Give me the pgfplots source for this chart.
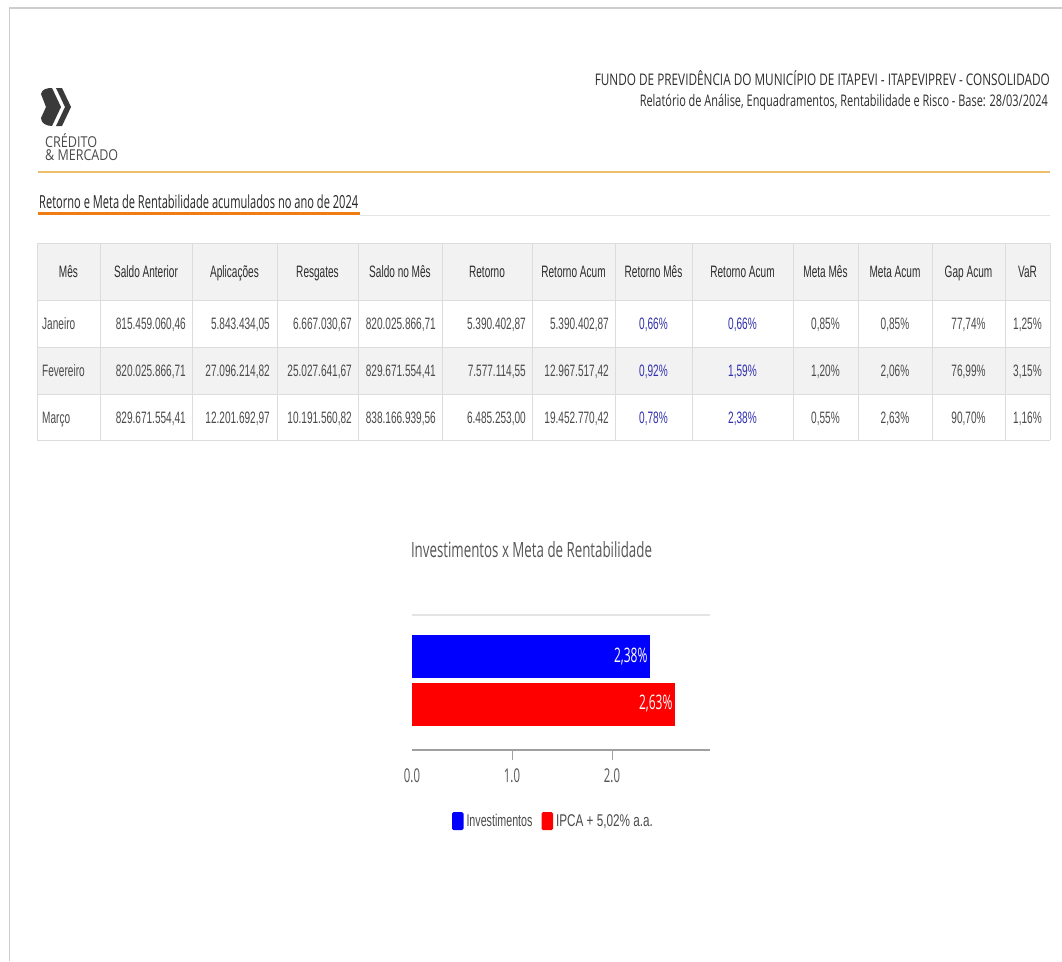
\documentclass[border=0pt]{standalone}
\usepackage{pgfplots}
\pgfplotsset{compat=1.18}
\usepackage{fontspec}
\usepackage{graphicx}
\setmainfont{Liberation Sans}[FakeStretch=0.61]
\newfontfamily\os{Open Sans}[FakeStretch=0.6]
\definecolor{frame}{RGB}{205,205,205}
\definecolor{gold}{RGB}{236,190,110}
\definecolor{orng}{RGB}{240,125,20}
\definecolor{hdr}{RGB}{45,45,45}
\definecolor{txt}{RGB}{75,75,75}
\definecolor{pblue}{RGB}{48,48,176}
\definecolor{cellbg}{RGB}{242,242,242}
\definecolor{cellln}{RGB}{220,220,220}
\definecolor{logo}{RGB}{58,58,58}
\definecolor{gridc}{RGB}{228,228,228}
\definecolor{axc}{RGB}{160,160,160}
\definecolor{lbl}{RGB}{85,85,85}
\definecolor{bblue}{RGB}{0,0,255}
\definecolor{bred}{RGB}{255,0,0}
\newcommand\fs[1]{\fontsize{#1}{#1}\selectfont}
\newcommand\fitw[2]{\resizebox{#1}{\height}{#2}}
\newcommand\cL[3]{\node[anchor=base west,inner sep=0,text=txt] at (#1,#2) {\fs{16.5}#3};}
\newcommand\cR[3]{\node[anchor=base east,inner sep=0,text=txt] at (#1,#2) {\fs{16.5}#3};}
\newcommand\cC[3]{\node[anchor=base,inner sep=0,text=txt] at (#1,#2) {\fs{16.5}#3};}
\newcommand\cB[3]{\node[anchor=base,inner sep=0,text=pblue] at (#1,#2) {\fs{16.5}#3};}
\newcommand\cH[2]{\node[anchor=base,inner sep=0,text=hdr] at (#1,277.5) {\fs{16.5}#2};}
\begin{document}
\begin{tikzpicture}[x=1pt,y=-1pt]
\useasboundingbox (0,0) rectangle (1062,961);
\fill[white] (0,0) rectangle (1062,961);
% page frame
\draw[frame,line width=2pt] (9,8) -- (1062,8);
\draw[frame,line width=1.5pt] (9.5,8) -- (9.5,961);
% logo
\fill[logo] (41,94) .. controls (42,89) and (47,88) .. (52,88) -- (61,107) -- (52,126) .. controls (46,126) and (41,123) .. (41,118) -- (46,107) -- cycle;
\fill[logo] (56,88) -- (62,88) -- (71,107) -- (62,126) -- (56,126) -- (65,107) -- cycle;
\node[anchor=base west,inner sep=0,text=txt] at (45,147) {\os\fs{15}\fitw{52pt}{CRÉDITO}};
\node[anchor=base west,inner sep=0,text=txt] at (45,160.5) {\os\fs{15}\fitw{73pt}{\& MERCADO}};
% header texts
\node[anchor=base east,inner sep=0,text=hdr] at (1050,85) {\os\fs{16}\fitw{455pt}{FUNDO DE PREVIDÊNCIA DO MUNICÍPIO DE ITAPEVI - ITAPEVIPREV - CONSOLIDADO}};
\node[anchor=base east,inner sep=0,text=hdr] at (1048,106) {\os\fs{16}\fitw{408pt}{Relatório de Análise, Enquadramentos, Rentabilidade e Risco - Base: 28/03/2024}};
\draw[gold,line width=1.2pt] (38,172) -- (1050,172);
% section title
\node[anchor=base west,inner sep=0,text=black!85] at (39,208.5) {\os\fs{18}\fitw{319pt}{Retorno e Meta de Rentabilidade acumulados no ano de 2024}};
\draw[black!10,line width=1pt] (360,215) -- (1050,215);
\draw[orng,line width=3pt] (38,213.5) -- (360,213.5);
% table
\fill[cellbg] (37,243) rectangle (1050,300);
\fill[cellbg] (37,347) rectangle (1050,394);
\foreach \yy in {243,300,347,394,440} \draw[cellln,line width=0.8pt] (37,\yy) -- (1050,\yy);
\foreach \xx in {37,100,192,277,358,442,532,615,692,793,858,932,1005,1050} \draw[cellln,line width=0.8pt] (\xx,243) -- (\xx,440);
\cH{68.5}{Mês}\cH{146}{Saldo Anterior}\cH{234.5}{Aplicações}\cH{317.5}{Resgates}\cH{400}{Saldo no Mês}\cH{487}{Retorno}\cH{573.5}{Retorno Acum}\cH{653.5}{Retorno Mês}\cH{742.5}{Retorno Acum}\cH{825.5}{Meta Mês}\cH{895}{Meta Acum}\cH{968.5}{Gap Acum}\cH{1027.5}{VaR}
% Janeiro
\cL{42}{329.5}{Janeiro}\cR{186}{329.5}{815.459.060,46}\cR{270}{329.5}{5.843.434,05}\cR{352}{329.5}{6.667.030,67}\cR{436}{329.5}{820.025.866,71}\cR{526}{329.5}{5.390.402,87}\cR{609}{329.5}{5.390.402,87}
\cB{653.5}{329.5}{0,66\%}\cB{742.5}{329.5}{0,66\%}\cC{825.5}{329.5}{0,85\%}\cC{895}{329.5}{0,85\%}\cC{968.5}{329.5}{77,74\%}\cC{1027.5}{329.5}{1,25\%}
% Fevereiro
\cL{42}{376.5}{Fevereiro}\cR{186}{376.5}{820.025.866,71}\cR{270}{376.5}{27.096.214,82}\cR{352}{376.5}{25.027.641,67}\cR{436}{376.5}{829.671.554,41}\cR{526}{376.5}{7.577.114,55}\cR{609}{376.5}{12.967.517,42}
\cB{653.5}{376.5}{0,92\%}\cB{742.5}{376.5}{1,59\%}\cC{825.5}{376.5}{1,20\%}\cC{895}{376.5}{2,06\%}\cC{968.5}{376.5}{76,99\%}\cC{1027.5}{376.5}{3,15\%}
% Marco
\cL{42}{423}{Março}\cR{186}{423}{829.671.554,41}\cR{270}{423}{12.201.692,97}\cR{352}{423}{10.191.560,82}\cR{436}{423}{838.166.939,56}\cR{526}{423}{6.485.253,00}\cR{609}{423}{19.452.770,42}
\cB{653.5}{423}{0,78\%}\cB{742.5}{423}{2,38\%}\cC{825.5}{423}{0,55\%}\cC{895}{423}{2,63\%}\cC{968.5}{423}{90,70\%}\cC{1027.5}{423}{1,16\%}
% chart title
\node[anchor=base,inner sep=0,text=lbl] at (531.5,557) {\os\fs{21}\fitw{241pt}{Investimentos x Meta de Rentabilidade}};
\begin{axis}[at={(412pt,-750pt)}, anchor=south west, scale only axis,
  width=298pt, height=135pt, xmin=0, xmax=2.98, ymin=0, ymax=135,
  axis x line*=bottom, axis y line*=left,
  y axis line style={draw=none}, ytick={135}, yticklabels={}, ytick style={draw=none},
  ymajorgrids, grid style={gridc,line width=1.5pt},
  x axis line style={-,axc,line width=1.8pt},
  xtick={1,2}, xticklabels={1.0,2.0},
  extra x ticks={0}, extra x tick labels={0.0}, extra x tick style={xtick style={draw=none}},
  xtick align=outside, major tick length=10pt, xtick style={axc,line width=1pt},
  xticklabel style={font=\os\fs{19}, text=lbl, yshift=-5pt},
  xbar, bar width=43pt, bar shift=0pt, clip=false,
  point meta=x,
  nodes near coords={\pgfmathprintnumber[fixed,fixed zerofill,precision=2,use comma,assume math mode=true]{\pgfplotspointmeta}\%},
  nodes near coords align={anchor=east},
  every node near coord/.append style={anchor=east, text=white, font=\os\fs{20}, xshift=1pt},
  legend style={at={(0.4715,-0.526)}, anchor=center, draw=none, fill=none, legend columns=2,
    font=\fs{17}, text=txt, nodes={inner sep=0pt},
    /tikz/every odd column/.append style={column sep=3pt},
    /tikz/every even column/.append style={column sep=9pt}},
  legend image code/.code={\fill[#1,draw=none,rounded corners=1.5pt] (0pt,-9pt) rectangle (11.5pt,9pt);},
]
\addplot[fill=bblue,draw=none] coordinates {(2.38,93.5)};
\addlegendentry{\fitw{66pt}{Investimentos}}
\addplot[fill=bred,draw=none] coordinates {(2.63,46)};
\addlegendentry{\fitw{97pt}{IPCA + 5,02\% a.a.}}
\end{axis}
\end{tikzpicture}
\end{document}
